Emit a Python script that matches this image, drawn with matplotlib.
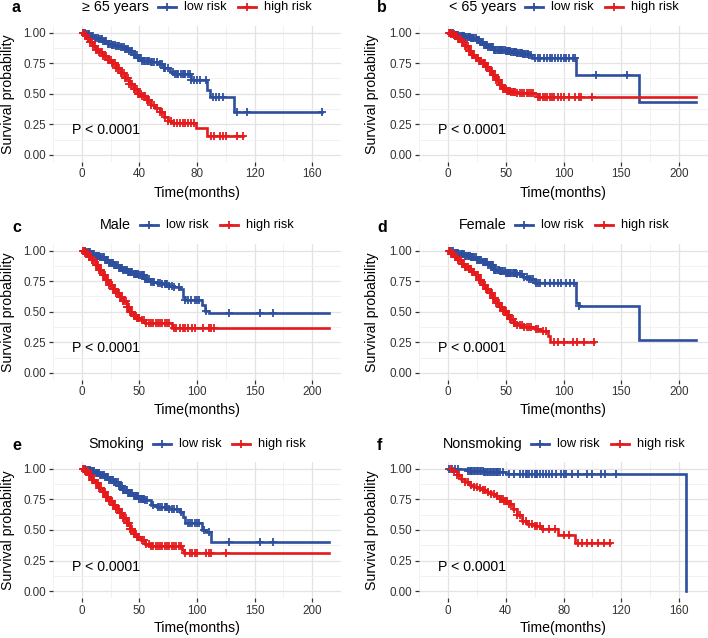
import numpy as np
import matplotlib
matplotlib.use('Agg')
import matplotlib.pyplot as plt
from matplotlib.lines import Line2D

plt.rcParams['font.family'] = ['Liberation Sans', 'DejaVu Sans']

W, H = 708, 638
BLUE = '#2D4F9E'
RED = '#E41A1C'

# ---- data: step times, survival after each step, censor times ----
# a: >= 65 years
a_low_t = [0, 3, 6, 9, 12, 15, 18, 21, 24, 27, 30, 33, 36, 39, 42, 48, 53, 57, 61, 64, 76, 87, 89, 106]
a_low_s = [1, .99, .97, .96, .95, .93, .91, .90, .89, .88, .87, .85, .82, .79, .77, .76, .74, .71, .68, .66, .61, .53, .47, .35]
a_low_end = 167
a_low_cens = [1, 2, 3, 4, 5, 6, 7, 8, 9, 10, 11, 12, 13, 14, 15, 16, 17, 18, 19, 20, 21, 22, 23, 24, 25, 26, 27,
              28, 29, 30, 31, 32, 33, 34, 35, 36, 37, 38, 39, 40, 41, 42, 43, 44, 45, 46, 47, 48, 49, 50, 52, 54,
              56, 57, 58, 60, 63, 65, 66, 67, 69, 70, 71, 72, 74, 75, 76, 78, 80, 82, 86, 91, 93, 95, 98, 108, 115, 167]
a_high_t = [0, 2, 4, 6, 8, 10, 12, 15, 18, 21, 24, 27, 30, 33, 36, 39, 42, 45, 48, 51, 54, 57, 60, 63, 79, 87]
a_high_s = [1, .98, .95, .92, .89, .86, .84, .81, .78, .75, .71, .67, .63, .58, .54, .50, .48, .45, .41, .38, .35, .31, .28, .26, .22, .155]
a_high_end = 112
a_high_cens = [1, 2, 3, 4, 5, 6, 7, 8, 9, 10, 11, 12, 13, 14, 15, 16, 17, 18, 19, 20, 21, 22, 23, 24, 25, 26, 27,
               28, 29, 30, 31, 32, 33, 34, 35, 36, 37, 38, 39, 40, 41, 42, 43, 44, 45, 46, 47, 48, 50, 52, 54, 56,
               58, 60, 62, 64, 66, 68, 70, 72, 74, 76, 78, 90, 92, 96, 98, 100, 108, 112]

# b: < 65 years
b_low_t = [0, 5, 10, 15, 20, 25, 28, 31, 35, 40, 45, 50, 55, 60, 65, 70, 73, 111, 165]
b_low_s = [1, .985, .97, .965, .96, .94, .92, .90, .88, .86, .855, .85, .84, .835, .825, .815, .79, .65, .435]
b_low_end = 215
b_low_cens = [2, 3, 4, 5, 6, 7, 8, 9, 10, 11, 12, 13, 14, 15, 16, 17, 18, 19, 20, 21, 22, 23, 24, 25, 26, 27, 28,
              29, 30, 31, 32, 33, 34, 35, 36, 37, 38, 39, 40, 41, 42, 43, 44, 45, 46, 47, 48, 49, 50, 51, 52, 53,
              54, 55, 56, 57, 58, 59, 60, 61, 62, 63, 64, 65, 66, 67, 68, 69, 70, 72, 75, 78, 80, 83, 86, 88, 90,
              93, 95, 98, 100, 102, 105, 108, 110, 128, 155]
b_high_t = [0, 3, 6, 9, 12, 15, 18, 21, 24, 27, 30, 33, 36, 39, 42, 45, 48, 51, 55, 60, 65, 75, 78]
b_high_s = [1, .99, .97, .95, .92, .89, .85, .82, .79, .77, .75, .72, .69, .65, .61, .57, .54, .52, .515, .51, .505, .495, .475]
b_high_end = 215
b_high_cens = [1, 2, 3, 4, 5, 6, 7, 8, 9, 10, 11, 12, 13, 14, 15, 16, 17, 18, 19, 20, 21, 22, 23, 24, 25, 26, 27,
               28, 29, 30, 31, 32, 33, 34, 35, 36, 37, 38, 39, 40, 41, 42, 43, 44, 45, 46, 47, 48, 49, 50, 51, 52,
               53, 54, 55, 56, 57, 58, 60, 62, 64, 66, 68, 70, 72, 74, 78, 80, 82, 84, 86, 88, 90, 92, 95, 98, 100,
               105, 110, 113, 115, 125]

# c: Male
c_low_t = [0, 4, 8, 12, 16, 20, 24, 28, 32, 36, 40, 45, 50, 55, 60, 65, 70, 75, 80, 85, 88, 90, 104, 107, 110]
c_low_s = [1, .99, .975, .96, .945, .925, .90, .88, .86, .84, .825, .81, .80, .77, .745, .735, .73, .715, .70, .69, .62, .595, .555, .51, .49]
c_low_end = 215
c_low_cens = [2, 3, 4, 5, 6, 7, 8, 9, 10, 11, 12, 13, 14, 15, 16, 17, 18, 19, 20, 21, 22, 23, 24, 25, 26, 27, 28,
              29, 30, 31, 32, 33, 34, 35, 36, 37, 38, 39, 40, 41, 42, 43, 44, 45, 46, 47, 48, 49, 50, 51, 52, 53,
              54, 55, 56, 57, 58, 60, 62, 63, 66, 68, 70, 72, 73, 74, 76, 78, 80, 84, 90, 92, 95, 98, 100, 102,
              108, 128, 155, 166]
c_high_t = [0, 3, 6, 9, 12, 15, 18, 21, 24, 27, 30, 33, 36, 39, 42, 45, 48, 51, 55, 60, 78]
c_high_s = [1, .98, .95, .92, .88, .84, .80, .76, .72, .69, .65, .62, .585, .54, .50, .465, .445, .43, .41, .405, .37]
c_high_end = 215
c_high_cens = [1, 2, 3, 4, 5, 6, 7, 8, 9, 10, 11, 12, 13, 14, 15, 16, 17, 18, 19, 20, 21, 22, 23, 24, 25, 26, 27,
               28, 29, 30, 31, 32, 33, 34, 35, 36, 37, 38, 39, 40, 41, 42, 43, 44, 45, 46, 47, 48, 49, 50, 52, 54,
               56, 58, 60, 62, 64, 66, 68, 70, 72, 74, 76, 80, 82, 85, 88, 90, 92, 96, 98, 105, 110, 112, 115]

# d: Female
d_low_t = [0, 5, 10, 15, 20, 25, 30, 35, 40, 45, 50, 55, 60, 65, 70, 75, 111, 113, 165]
d_low_s = [1, .985, .97, .96, .95, .925, .905, .88, .84, .83, .82, .815, .81, .785, .77, .735, .575, .545, .27]
d_low_end = 215
d_low_cens = [2, 3, 4, 5, 6, 7, 8, 9, 10, 11, 12, 13, 14, 15, 16, 17, 18, 19, 20, 21, 22, 23, 24, 25, 26, 27, 28,
              29, 30, 31, 32, 33, 34, 35, 36, 37, 38, 39, 40, 41, 42, 43, 44, 45, 46, 47, 48, 49, 50, 51, 52, 53,
              54, 55, 56, 57, 58, 59, 60, 62, 64, 66, 68, 70, 72, 74, 76, 78, 80, 84, 88, 92, 95, 98, 102, 106,
              109, 113]
d_high_t = [0, 3, 6, 9, 12, 15, 18, 21, 24, 27, 30, 33, 36, 39, 42, 45, 48, 51, 54, 57, 60, 65, 75, 80, 87, 88]
d_high_s = [1, .975, .95, .92, .895, .87, .85, .825, .80, .76, .72, .685, .65, .61, .575, .54, .505, .47, .44, .41,
            .39, .375, .36, .34, .30, .255]
d_high_end = 126
d_high_cens = [1, 2, 3, 4, 5, 6, 7, 8, 9, 10, 11, 12, 13, 14, 15, 16, 17, 18, 19, 20, 21, 22, 23, 24, 25, 26, 27,
               28, 29, 30, 31, 32, 33, 34, 35, 36, 37, 38, 39, 40, 41, 42, 43, 44, 45, 46, 47, 48, 49, 50, 51, 52,
               53, 54, 55, 56, 57, 58, 60, 62, 64, 66, 68, 70, 72, 76, 78, 82, 85, 92, 95, 100, 108, 112, 118, 126]

# e: Smoking
e_low_t = [0, 4, 8, 12, 16, 20, 24, 28, 32, 36, 40, 45, 50, 55, 60, 65, 75, 85, 88, 90, 104, 108, 112]
e_low_s = [1, .99, .98, .965, .95, .93, .91, .89, .86, .83, .80, .775, .757, .743, .70, .685, .67, .65, .61, .56, .50, .48, .405]
e_low_end = 215
e_low_cens = [2, 3, 4, 5, 6, 7, 8, 9, 10, 11, 12, 13, 14, 15, 16, 17, 18, 19, 20, 21, 22, 23, 24, 25, 26, 27, 28,
              29, 30, 31, 32, 33, 34, 35, 36, 37, 38, 39, 40, 41, 42, 43, 44, 45, 46, 47, 48, 49, 50, 51, 52, 53,
              54, 55, 57, 62, 66, 68, 70, 72, 73, 74, 76, 78, 80, 83, 86, 92, 94, 96, 98, 100, 102, 106, 110,
              128, 155, 166]
e_high_t = [0, 3, 6, 9, 12, 15, 18, 21, 24, 27, 30, 33, 36, 39, 42, 45, 48, 51, 55, 60, 87, 89]
e_high_s = [1, .98, .95, .91, .88, .845, .81, .77, .74, .705, .675, .64, .60, .555, .51, .47, .44, .415, .385, .37, .338, .31]
e_high_end = 215
e_high_cens = [1, 2, 3, 4, 5, 6, 7, 8, 9, 10, 11, 12, 13, 14, 15, 16, 17, 18, 19, 20, 21, 22, 23, 24, 25, 26, 27,
               28, 29, 30, 31, 32, 33, 34, 35, 36, 37, 38, 39, 40, 41, 42, 43, 44, 45, 46, 47, 48, 49, 50, 52, 54,
               56, 58, 60, 62, 64, 66, 68, 70, 72, 74, 76, 78, 80, 82, 84, 86, 90, 94, 96, 98, 100, 108, 110, 112, 125]

# f: Nonsmoking
f_low_t = [0, 14, 25, 40, 45, 165]
f_low_s = [1, .985, .975, .96, .955, 0]
f_low_end = 165
f_low_cens = [1, 3, 5, 7, 14, 15, 16, 17, 18, 19, 20, 21, 22, 23, 24, 25, 26, 27, 28, 29, 30, 31, 32, 33, 34, 35,
              36, 38, 42, 46, 50, 52, 54, 55, 56, 58, 60, 61, 62, 64, 66, 68, 70, 72, 75, 78, 80, 82, 86, 90, 96,
              100, 106, 109, 116]
f_high_t = [0, 3, 6, 9, 12, 15, 18, 21, 24, 27, 30, 33, 36, 39, 42, 45, 48, 51, 55, 60, 65, 76, 88]
f_high_s = [1, .98, .95, .92, .89, .87, .855, .84, .825, .81, .79, .775, .755, .735, .71, .67, .62, .575, .55, .535,
            .51, .46, .39]
f_high_end = 112
f_high_cens = [2, 4, 6, 8, 10, 12, 14, 16, 18, 20, 22, 24, 26, 28, 30, 32, 34, 36, 37, 38, 39, 40, 41, 42, 44, 46,
               48, 50, 52, 54, 56, 58, 60, 62, 64, 66, 70, 74, 80, 84, 90, 93, 96, 100, 104, 108, 112]

letters = ['a', 'b', 'c', 'd', 'e', 'f']
titles = ['\u2265 65 years', '< 65 years', 'Male', 'Female', 'Smoking', 'Nonsmoking']
pval_text = 'P < 0.0001'

curves = [
    ((a_low_t, a_low_s, a_low_end, a_low_cens), (a_high_t, a_high_s, a_high_end, a_high_cens)),
    ((b_low_t, b_low_s, b_low_end, b_low_cens), (b_high_t, b_high_s, b_high_end, b_high_cens)),
    ((c_low_t, c_low_s, c_low_end, c_low_cens), (c_high_t, c_high_s, c_high_end, c_high_cens)),
    ((d_low_t, d_low_s, d_low_end, d_low_cens), (d_high_t, d_high_s, d_high_end, d_high_cens)),
    ((e_low_t, e_low_s, e_low_end, e_low_cens), (e_high_t, e_high_s, e_high_end, e_high_cens)),
    ((f_low_t, f_low_s, f_low_end, f_low_cens), (f_high_t, f_high_s, f_high_end, f_high_cens)),
]

# layout (pixels)
row_top = [26, 244, 462]
row_bot = [161.5, 379.5, 598]
col_lr = [(53, 341), (419, 708)]
xlims = [(-7.3, 167.9), (-9.1, 208.3), (-9.5, 211.5), (-9.1, 208.3), (-8.5, 212.5), (-6.6, 167.3)]
xticks = [[0, 40, 80, 120, 160], [0, 50, 100, 150, 200], [0, 50, 100, 150, 200],
          [0, 50, 100, 150, 200], [0, 50, 100, 150, 200], [0, 40, 80, 120, 160]]
head_y = [7, 225, 444]
letter_y = [8, 227, 445]
xlabel_y = [193, 410, 628]
letter_x = [12, 377]
ylabel_x = [8, 372]

fig = plt.figure(figsize=(W / 100, H / 100), dpi=100)
renderer = fig.canvas.get_renderer()


def fx(px):
    return px / W


def fy(py):
    return 1 - py / H


def draw_curve(ax, t, s, end, cens, color):
    x = list(t) + [end]
    y = list(s) + [s[-1]]
    ax.step(x, y, where='post', color=color, lw=1.9, solid_joinstyle='miter', zorder=3)
    t_arr = np.array(t)
    idx = np.searchsorted(t_arr, cens, side='right') - 1
    cy = np.array(s)[idx]
    ax.plot(cens, cy, ls='none', marker='+', ms=5.5, mew=1.3, color=color, zorder=4)


def draw_head(ax_center_px, ypx, title):
    fs_title, fs_lab = 10.3, 9.2
    gap1, hl, gap2, gap3 = 9, 18, 8, 11
    widths = []
    for txt, fs in [(title, fs_title), ('low risk', fs_lab), ('high risk', fs_lab)]:
        tt = fig.text(0, 0, txt, fontsize=fs)
        widths.append(tt.get_window_extent(renderer=renderer).width)
        tt.remove()
    total = widths[0] + gap1 + hl + gap2 + widths[1] + gap3 + hl + gap2 + widths[2]
    x = ax_center_px - total / 2
    fig.text(fx(x), fy(ypx), title, fontsize=fs_title, va='center', ha='left')
    x += widths[0] + gap1
    for col, lab, w in [(BLUE, 'low risk', widths[1]), (RED, 'high risk', widths[2])]:
        fig.add_artist(Line2D([fx(x), fx(x + hl)], [fy(ypx), fy(ypx)], color=col, lw=2.0,
                              transform=fig.transFigure))
        fig.add_artist(Line2D([fx(x + hl / 2)], [fy(ypx)], marker='+', ms=6, mew=1.3, color=col,
                              transform=fig.transFigure))
        x += hl + gap2
        fig.text(fx(x), fy(ypx), lab, fontsize=fs_lab, va='center', ha='left')
        x += w + gap3


for i in range(6):
    r, c = divmod(i, 2)
    l, rr = col_lr[c]
    t, b = row_top[r], row_bot[r]
    ax = fig.add_axes([fx(l), fy(b), (rr - l) / W, (b - t) / H])
    for sp in ax.spines.values():
        sp.set_visible(False)
    ax.set_xlim(*xlims[i])
    ax.set_ylim(-0.055, 1.055)
    ax.set_xticks(xticks[i])
    step = xticks[i][1] - xticks[i][0]
    ax.set_xticks([v + step / 2 for v in [xticks[i][0] - step] + xticks[i]], minor=True)
    ax.set_yticks([0, 0.25, 0.5, 0.75, 1.0])
    ax.set_yticklabels(['0.00', '0.25', '0.50', '0.75', '1.00'])
    ax.set_yticks([0.125, 0.375, 0.625, 0.875], minor=True)
    ax.grid(which='major', color='#E3E3E3', lw=0.9)
    ax.grid(which='minor', color='#F0F0F0', lw=0.6)
    ax.set_axisbelow(True)
    ax.tick_params(which='major', length=3, width=0.9, color='#333333', labelsize=8.4,
                   labelcolor='#333333', pad=2)
    ax.tick_params(which='minor', length=0)

    low, high = curves[i]
    draw_curve(ax, *low, BLUE)
    draw_curve(ax, *high, RED)

    ax.text(0.065, 0.2, pval_text, transform=ax.get_yaxis_transform(), fontsize=10.2,
            va='center', ha='left', zorder=5)

    fig.text(fx(letter_x[c]), fy(letter_y[r]), letters[i], fontsize=11.5, fontweight='bold',
             va='center', ha='left')
    draw_head((l + rr) / 2, head_y[r], titles[i])
    fig.text(fx((l + rr) / 2), fy(xlabel_y[r]), 'Time(months)', fontsize=10.2, ha='center', va='center')
    fig.text(fx(ylabel_x[c]), fy((t + b) / 2), 'Survival probability', fontsize=10.2, rotation=90,
             ha='center', va='center')

fig.savefig('out.png', dpi=100)
